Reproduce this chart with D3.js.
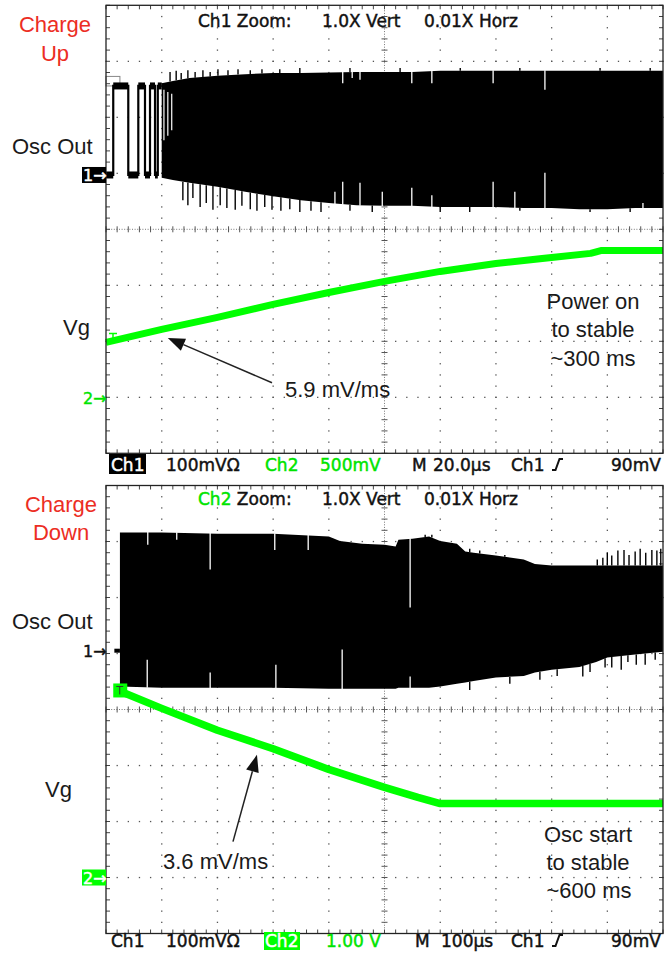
<!DOCTYPE html>
<html>
<head>
<meta charset="utf-8">
<script src="https://cdn.jsdelivr.net/npm/d3@7"></script>
<style>
  html, body { margin: 0; padding: 0; background: #fff; }
  svg { display: block; }
</style>
</head>
<body>
<svg id="chart" width="664" height="955"></svg>
<script>
// ------------------------------------------------------------------
// Captured traces. Time is in graticule divisions (0–10).
// Ch1 (oscillator output) in mV, Ch2 (gate voltage) in mV / V.
// ------------------------------------------------------------------

// --- Charge up: start-up pulses on Osc Out before steady oscillation
const upPulseTime  = [0, 0.13, 0.40, 0.58, 0.70, 0.79, 0.88, 0.93, 1.0];
const upPulseLevel = [0, 159, 0, 159, 0, 159, 0, 159, 159];

// --- Charge up: oscillation envelope (Ch1, mV)
const upEnvTime = [1.0, 1.2, 1.5, 2.0, 2.5, 3.0, 3.5, 4.0, 4.5, 5.0, 5.5, 6.0, 6.5, 7.0, 7.5, 8.0, 8.5, 9.0, 9.5, 10.0];
const upEnvHigh = [164, 168, 173, 177, 180, 182, 182, 183, 184, 184, 184, 186, 186, 186, 186, 186, 186, 186, 186, 186];
const upEnvLow  = [-5, -9, -14, -21, -30, -38, -45, -50, -54, -55, -55, -57, -57, -57, -59, -59, -61, -61, -59, -59];

// peaks reaching past the envelope
const upPeakHighTime = [1.15, 1.26, 1.35, 1.47, 1.6, 1.74, 1.87, 2.01, 2.19, 2.37, 2.59, 2.8, 3.12, 3.48, 4.38, 5.28, 6.36, 7.43, 8.87, 9.77];
const upPeakHighMv   = [184, 186, 182, 187, 184, 187, 184, 189, 187, 189, 187, 189, 189, 191, 191, 191, 191, 191, 191, 191];
const upPeakLowTime  = [1.38, 1.47, 1.56, 1.69, 1.80, 1.92, 2.05, 2.17, 2.32, 2.44, 2.59, 2.71, 2.85, 2.98, 3.14, 3.30, 3.48, 3.68, 3.86, 4.38, 4.78, 6.0, 6.53, 7.43, 8.69, 9.41];
const upPeakLowMv    = [-45, -54, -41, -57, -50, -62, -54, -59, -62, -55, -61, -64, -57, -62, -64, -61, -66, -64, -66, -64, -66, -66, -66, -64, -66, -66];

// dropouts (missing cycles) cutting into the envelope
const upDipHighTime = [4.25, 4.42, 4.56, 5.49, 5.85, 6.95, 7.88];
const upDipHighMv   = [164, 173, 170, 164, 164, 164, 152];
const upDipLowTime  = [4.11, 4.25, 4.56, 4.96, 5.49, 5.85, 6.95, 7.34, 7.88, 9.64];
const upDipLowMv    = [-30, -12, -14, -30, -23, -36, -12, -30, 4, -50];
const upGapTime     = [1.04, 1.11, 1.18];
const upGapFromMv   = [152, 148, 145];
const upGapToMv     = [62, 70, 80];

// --- Charge up: gate voltage (Ch2, mV)
const vgUpTime = [0, 1, 2, 3, 4, 5, 6, 7, 8, 8.7, 8.9, 10];
const vgUpMv   = [500, 616, 723, 840, 946, 1045, 1134, 1205, 1259, 1295, 1321, 1321];

// --- Charge down: oscillation envelope (Ch1, mV)
const downPreTime = [0.15, 0.25];
const downPreMv   = [0, 0];
const downEnvTime = [0.25, 1, 2, 3, 4, 4.2, 4.6, 5.0, 5.2, 5.25, 5.5, 5.8, 6.0, 6.3, 6.45, 6.6, 7.0, 7.5, 7.7, 8.0, 8.5, 8.8, 9.0, 9.5, 10];
const downEnvHigh = [211, 211, 209, 209, 204, 196, 191, 189, 186, 198, 200, 204, 196, 191, 177, 175, 170, 163, 155, 152, 152, 152, 152, 152, 152];
const downEnvLow  = [-64, -66, -66, -66, -68, -68, -68, -68, -68, -66, -66, -66, -64, -59, -57, -54, -48, -45, -39, -34, -29, -20, -12, -7, -2];

const downPeakHighTime = [5.73, 5.85, 6.53, 6.71, 7.16, 8.82, 8.92, 9.0, 9.08, 9.19, 9.3, 9.39, 9.5, 9.59, 9.69, 9.8, 9.89, 9.96];
const downPeakHighMv   = [207, 207, 182, 179, 171, 163, 166, 175, 170, 179, 180, 171, 177, 182, 175, 180, 179, 182];
const downPeakLowTime  = [6.53, 7.25, 7.79, 8.1, 8.56, 8.69, 8.96, 9.08, 9.25, 9.37, 9.52, 9.68, 9.86];
const downPeakLowMv    = [-70, -59, -52, -45, -46, -38, -30, -30, -34, -20, -25, -25, -16];

const downDipHighTime = [0.75, 1.27, 1.87, 3.03, 3.63, 5.46];
const downDipHighMv   = [189, 198, 145, 180, 180, 77];
const downDipLowTime  = [0.74, 1.87, 3.05, 4.24, 5.46];
const downDipLowMv    = [-16, -39, -25, 2, -46];

// --- Charge down: gate voltage (Ch2, V)
const vgDownTime = [0.22, 1, 2, 3, 4, 5, 5.6, 6.0, 10];
const vgDownV    = [3.34, 3.02, 2.63, 2.30, 1.93, 1.61, 1.43, 1.32, 1.32];

// ------------------------------------------------------------------
const GREEN = "#00ff00";
const GREEN_TEXT = "#00e400";
const RED = "#ec2d23";
const INK = "#1a1a1a";
const FONT_ANN = "'Liberation Sans', Arial, Helvetica, sans-serif";
const FONT_SCOPE = "'DejaVu Sans', Verdana, sans-serif";

const svg = d3.select("#chart");
const PANEL_H = 448;
const x = d3.scaleLinear().domain([0, 10]).range([106, 663]);

const minorT = d3.range(0, 51).map(i => i / 5);
const minorV = d3.range(-20, 21).map(i => i / 5);

function makePanel(top, cfg) {
  const g = svg.append("g");
  const y = d3.scaleLinear().domain([-4, 4]).range([top + PANEL_H, top]);
  const ch1 = v => y(v / cfg.ch1PerDiv + cfg.ch1Offset);
  const ch2 = v => y(v / cfg.ch2PerDiv + cfg.ch2Offset);

  // graticule: dotted division lines
  const grid = g.append("g").attr("fill", "#555");
  [1, 2, 3, 4, 6, 7, 8, 9].forEach(d => {
    grid.selectAll(null).data(minorV).join("rect")
      .attr("x", x(d) - 0.6).attr("y", v => y(v) - 0.6)
      .attr("width", 1.3).attr("height", 1.3);
  });
  [-3, -2, -1, 1, 2, 3].forEach(d => {
    grid.selectAll(null).data(minorT).join("rect")
      .attr("x", t => x(t) - 0.6).attr("y", y(d) - 0.6)
      .attr("width", 1.3).attr("height", 1.3);
  });

  // center cross with minor ticks
  const cross = g.append("g").attr("stroke", "#555").attr("stroke-width", 1);
  cross.append("line").attr("x1", x(0)).attr("x2", x(10)).attr("y1", y(0)).attr("y2", y(0))
    .attr("stroke-dasharray", "1,1.6").attr("stroke", "#777");
  cross.append("line").attr("x1", x(5)).attr("x2", x(5)).attr("y1", y(-4)).attr("y2", y(4))
    .attr("stroke-dasharray", "1,1.6").attr("stroke", "#777");
  cross.selectAll(null).data(minorT).join("line")
    .attr("x1", t => x(t)).attr("x2", t => x(t)).attr("y1", y(0) - 3).attr("y2", y(0) + 3);
  cross.selectAll(null).data(minorV).join("line")
    .attr("x1", x(5) - 3).attr("x2", x(5) + 3).attr("y1", v => y(v)).attr("y2", v => y(v));

  // frame ticks
  const edge = g.append("g").attr("stroke", "#444").attr("stroke-width", 1);
  edge.selectAll(null).data(minorT).join("line")
    .attr("x1", t => x(t)).attr("x2", t => x(t)).attr("y1", y(4)).attr("y2", y(4) + 4);
  edge.selectAll(null).data(minorT).join("line")
    .attr("x1", t => x(t)).attr("x2", t => x(t)).attr("y1", y(-4) - 4).attr("y2", y(-4));
  edge.selectAll(null).data(minorV).join("line")
    .attr("x1", x(0)).attr("x2", x(0) + 4).attr("y1", v => y(v)).attr("y2", v => y(v));
  edge.selectAll(null).data(minorV).join("line")
    .attr("x1", x(10) - 4).attr("x2", x(10)).attr("y1", v => y(v)).attr("y2", v => y(v));

  const traces = g.append("g");
  const overlay = g.append("g");

  g.append("rect").attr("x", x(0)).attr("y", y(4))
    .attr("width", x(10) - x(0)).attr("height", y(-4) - y(4))
    .attr("fill", "none").attr("stroke", "#222").attr("stroke-width", 1.3);

  return { g, y, ch1, ch2, traces, overlay };
}

function envelope(p, times, high, low) {
  const area = d3.area()
    .x((d, i) => x(times[i]))
    .y0((d, i) => p.ch1(low[i]))
    .y1((d, i) => p.ch1(high[i]));
  p.traces.append("path").datum(times).attr("d", area).attr("fill", "#000");
  return {
    hi: d3.scaleLinear().domain(times).range(high),
    lo: d3.scaleLinear().domain(times).range(low)
  };
}

function strokes(p, times, from, to, color, w) {
  p.traces.append("g").selectAll("line").data(times).join("line")
    .attr("x1", t => x(t)).attr("x2", t => x(t))
    .attr("y1", (t, i) => p.ch1(from(t, i))).attr("y2", (t, i) => p.ch1(to(t, i)))
    .attr("stroke", color).attr("stroke-width", w);
}

function trace(p, times, values, scaleFn, width) {
  const line = d3.line().x((d, i) => x(times[i])).y((d, i) => scaleFn(values[i]));
  p.traces.append("path").datum(values).attr("d", line)
    .attr("fill", "none").attr("stroke", GREEN).attr("stroke-width", width)
    .attr("stroke-linejoin", "round");
}

function arrow(p, t0, v0, t1, v1) {
  const x0 = x(t0), y0 = p.y(v0), x1 = x(t1), y1 = p.y(v1);
  const a = Math.atan2(y1 - y0, x1 - x0);
  const L = 17, W = 6.5;
  const bx = x1 - L * Math.cos(a), by = y1 - L * Math.sin(a);
  p.overlay.append("line").attr("x1", x0).attr("y1", y0).attr("x2", bx).attr("y2", by)
    .attr("stroke", "#222").attr("stroke-width", 1.5);
  p.overlay.append("path")
    .attr("d", `M${x1},${y1}L${bx - W * Math.sin(a)},${by + W * Math.cos(a)}L${bx + W * Math.sin(a)},${by - W * Math.cos(a)}Z`)
    .attr("fill", "#111");
}

function label(txt, px, py, opts = {}) {
  return svg.append("text").attr("x", px).attr("y", py)
    .attr("font-family", opts.font || FONT_ANN)
    .attr("font-size", opts.size || 22)
    .attr("fill", opts.fill || INK)
    .attr("text-anchor", opts.anchor || "start")
    .attr("letter-spacing", opts.spacing || null)
    .text(txt);
}

// instrument read-out text: slightly heavier strokes like the scope's screen font
function scopeText(txt, px, py, fill, size) {
  const c = fill || "#111";
  return label(txt, px, py, { font: FONT_SCOPE, size: size || 17, fill: c })
    .attr("stroke", c).attr("stroke-width", 0.45);
}

function triggerGlyph(px, base) {
  svg.append("path")
    .attr("d", `M${px},${base} h3.5 l4,-11 h3.5`)
    .attr("fill", "none").attr("stroke", "#111").attr("stroke-width", 2);
}

// ================= Charge up =================
const up = makePanel(5.3, { ch1PerDiv: 100, ch1Offset: 0.97, ch2PerDiv: 500, ch2Offset: -3.02 });

// start-up pulses: thick settled levels plus thin edges
up.traces.append("rect")
  .attr("x", x(0)).attr("y", up.ch1(176)).attr("width", x(0.25) - x(0))
  .attr("height", up.ch1(159) - up.ch1(176))
  .attr("fill", "none").attr("stroke", "#888").attr("stroke-width", 1);
up.traces.append("g").selectAll("line").data(upPulseTime.slice(0, -1)).join("line")
  .attr("x1", (t, i) => x(t)).attr("x2", (t, i) => x(upPulseTime[i + 1]))
  .attr("y1", (t, i) => up.ch1(upPulseLevel[i])).attr("y2", (t, i) => up.ch1(upPulseLevel[i]))
  .attr("stroke", "#000").attr("stroke-width", 7);
up.traces.append("path").datum(upPulseTime)
  .attr("d", d3.line().curve(d3.curveStepAfter).x(t => x(t)).y((t, i) => up.ch1(upPulseLevel[i])))
  .attr("fill", "none").attr("stroke", "#000").attr("stroke-width", 2.2);

const upEnv = envelope(up, upEnvTime, upEnvHigh, upEnvLow);
strokes(up, upPeakHighTime, t => upEnv.hi(t), (t, i) => upPeakHighMv[i], "#000", 1.4);
strokes(up, upPeakLowTime, t => upEnv.lo(t), (t, i) => upPeakLowMv[i], "#000", 1.4);
strokes(up, upDipHighTime, t => upEnv.hi(t) + 1, (t, i) => upDipHighMv[i], "#fff", 1.3);
strokes(up, upDipLowTime, t => upEnv.lo(t) - 1, (t, i) => upDipLowMv[i], "#fff", 1.3);
strokes(up, upGapTime, (t, i) => upGapFromMv[i], (t, i) => upGapToMv[i], "#fff", 1.2);

trace(up, vgUpTime, vgUpMv, up.ch2, 7);
// trigger-level mark on the Vg trace
{
  const tx = x(vgUpTime[0]) + 7, ty = up.ch2(vgUpMv[0]);
  up.traces.append("path").attr("d", `M${tx - 4},${ty - 9} h8 M${tx},${ty - 9} v8`)
    .attr("stroke", GREEN).attr("stroke-width", 1.5).attr("fill", "none");
}
arrow(up, 2.98, -2.74, 1.11, -1.94);

// ================= Charge down =================
const down = makePanel(485.5, { ch1PerDiv: 100, ch1Offset: 1.05, ch2PerDiv: 1, ch2Offset: -3.0 });

down.traces.append("path").datum(downPreTime)
  .attr("d", d3.line().x(t => x(t)).y((t, i) => down.ch1(downPreMv[i])))
  .attr("stroke", "#000").attr("stroke-width", 4).attr("fill", "none");
const downEnv = envelope(down, downEnvTime, downEnvHigh, downEnvLow);
strokes(down, downPeakHighTime, t => downEnv.hi(t), (t, i) => downPeakHighMv[i], "#000", 1.4);
strokes(down, downPeakLowTime, t => downEnv.lo(t), (t, i) => downPeakLowMv[i], "#000", 1.4);
strokes(down, downDipHighTime, t => downEnv.hi(t) + 1, (t, i) => downDipHighMv[i], "#fff", 1.3);
strokes(down, downDipLowTime, t => downEnv.lo(t) - 1, (t, i) => downDipLowMv[i], "#fff", 1.3);

trace(down, vgDownTime, vgDownV, down.ch2, 7.5);
{
  const bx = x(vgDownTime[0]) + 2, by = down.ch2(vgDownV[0]);
  down.traces.append("rect").attr("x", bx - 7).attr("y", by - 7).attr("width", 14).attr("height", 14)
    .attr("fill", GREEN);
  down.traces.append("path").attr("d", `M${bx - 4},${by - 4} h7 M${bx - 0.5},${by - 4} v8`)
    .attr("stroke", "#333").attr("stroke-width", 1).attr("fill", "none");
}
arrow(down, 2.28, -2.36, 2.71, -0.81);

// ================= Text =================
// left-hand titles
label("Charge", 55, 32, { anchor: "middle", fill: RED });
label("Up", 55, 61, { anchor: "middle", fill: RED });
label("Osc Out", 12, 154);
label("Vg", 63, 335);
label("Charge", 61, 512, { anchor: "middle", fill: RED });
label("Down", 61, 540, { anchor: "middle", fill: RED });
label("Osc Out", 12, 629);
label("Vg", 45, 797);

// annotations
label("5.9 mV/ms", 285, 397);
label("Power on", 593, 309, { anchor: "middle" });
label("to stable", 593, 337, { anchor: "middle" });
label("~300 ms", 593, 366, { anchor: "middle" });
label("3.6 mV/ms", 163, 869);
label("Osc start", 588, 842, { anchor: "middle" });
label("to stable", 588, 870, { anchor: "middle" });
label("~600 ms", 589, 898, { anchor: "middle" });

// channel ground markers
svg.append("rect").attr("x", 82).attr("y", up.ch1(0) - 8).attr("width", 24).attr("height", 16).attr("fill", "#000");
scopeText("1→", 83, up.ch1(0) + 6, "#fff", 16);
scopeText("2→", 83, up.ch2(0) + 6, GREEN_TEXT, 16);
scopeText("1→", 83, down.ch1(0) + 6, "#111", 16);
svg.append("rect").attr("x", 82).attr("y", down.ch2(0) - 8).attr("width", 24).attr("height", 16).attr("fill", GREEN);
scopeText("2→", 83, down.ch2(0) + 6, "#fff", 16);

// zoom headers
scopeText("Ch1 Zoom:", 198, 27);
scopeText("1.0X Vert", 322, 27);
scopeText("0.01X Horz", 424, 27);
{
  const h = scopeText("", 198, 505);
  h.append("tspan").attr("fill", GREEN_TEXT).attr("stroke", GREEN_TEXT).text("Ch2");
  h.append("tspan").text(" Zoom:");
}
scopeText("1.0X Vert", 322, 505);
scopeText("0.01X Horz", 424, 505);

// status lines
svg.append("rect").attr("x", 109).attr("y", 454).attr("width", 37).attr("height", 20).attr("fill", "#000");
scopeText("Ch1", 111, 471, "#fff");
scopeText("100mVΩ", 166, 471);
scopeText("Ch2", 265, 471, GREEN_TEXT);
scopeText("500mV", 320, 471, GREEN_TEXT);
scopeText("M", 412, 471);
scopeText("20.0µs", 433, 471);
scopeText("Ch1", 511, 471);
triggerGlyph(552, 470);
scopeText("90mV", 611, 471);

scopeText("Ch1", 111, 947);
scopeText("100mVΩ", 166, 947);
svg.append("rect").attr("x", 264).attr("y", 932).attr("width", 36).attr("height", 18).attr("fill", GREEN);
scopeText("Ch2", 265, 947, "#fff");
scopeText("1.00 V", 326, 947, GREEN_TEXT);
scopeText("M", 415, 947);
scopeText("100µs", 441, 947);
scopeText("Ch1", 511, 947);
triggerGlyph(552, 946);
scopeText("90mV", 611, 947);
</script>
</body>
</html>
